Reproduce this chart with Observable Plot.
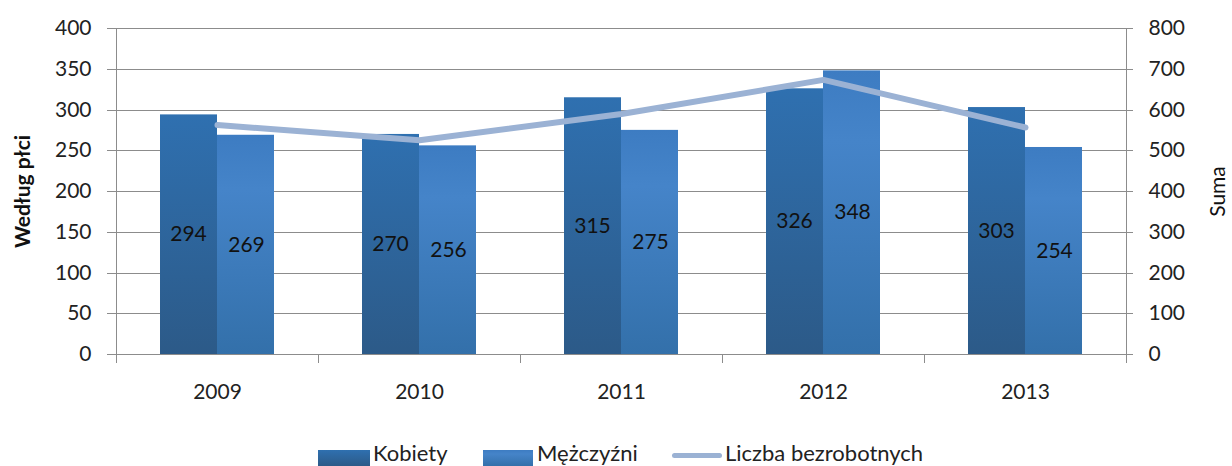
<!DOCTYPE html>
<html><head><meta charset="utf-8">
<script src="https://cdn.jsdelivr.net/npm/d3@7"></script>
<script src="https://cdn.jsdelivr.net/npm/@observablehq/plot@0.6"></script>
<style>
body{margin:0;background:#fff;font-family:Lato, "Open Sans", sans-serif;}
#wrap{position:relative;width:1232px;height:466px;overflow:hidden;background:#fff;}
#wrap svg{display:block;}
.lt{position:absolute;top:442px;font-size:22px;line-height:22px;color:#222;white-space:nowrap;}
.sw{position:absolute;}
</style></head><body><div id="wrap"></div>
<script>
const years = ["2009", "2010", "2011", "2012", "2013"];
const kobiety = [294, 270, 315, 326, 303];
const mezczyzni = [269, 256, 275, 348, 254];
const suma = [563, 526, 590, 674, 557];
const leftTicks = [0, 50, 100, 150, 200, 250, 300, 350, 400];
const rightTicks = [0, 100, 200, 300, 400, 500, 600, 700, 800];
const seriesNames = ["Kobiety", "Mężczyźni", "Liczba bezrobotnych"];
const leftTitle = "Według płci";
const rightTitle = "Suma";

const colK = ["#2f70b0", "#2c5a88"];
const colM = ["#3d7cc2", "#4584c9", "#3370aa"];
const lineCol = "#9bb2d4";
const gridCol = "#8c8c8c";

const data = years.map((y, i) => ({year: y, k: kobiety[i], m: mezczyzni[i], s: suma[i]}));
const leftMax = leftTicks[leftTicks.length - 1];
const rightMax = rightTicks[rightTicks.length - 1];
const ratio = rightMax / leftMax;

function defsMark() {
  const defs = d3.create("svg:defs");
  const gk = defs.append("linearGradient").attr("id", "gK").attr("x1", 0).attr("y1", 0).attr("x2", 0).attr("y2", 1);
  gk.append("stop").attr("offset", "0%").attr("stop-color", colK[0]);
  gk.append("stop").attr("offset", "100%").attr("stop-color", colK[1]);
  const gm = defs.append("linearGradient").attr("id", "gM").attr("x1", 0).attr("y1", 0).attr("x2", 0).attr("y2", 1);
  gm.append("stop").attr("offset", "0%").attr("stop-color", colM[0]);
  gm.append("stop").attr("offset", "25%").attr("stop-color", colM[1]);
  gm.append("stop").attr("offset", "100%").attr("stop-color", colM[2]);
  return defs.node();
}

function frameLines(index, scales) {
  const x = scales.x, y = scales.y;
  const step = x(years[1]) - x(years[0]);
  const y0 = y(0), yTop = y(leftMax);
  const g = d3.create("svg:g").attr("stroke", gridCol).attr("stroke-width", 1).attr("shape-rendering", "crispEdges");
  years.forEach((yr, i) => {
    const xb = x(yr);
    g.append("line").attr("x1", xb).attr("x2", xb).attr("y1", i === 0 ? yTop : y0).attr("y2", y0 + 9);
  });
  const xr = x(years[years.length - 1]) + step;
  g.append("line").attr("x1", xr).attr("x2", xr).attr("y1", yTop).attr("y2", y0 + 9);
  return g.node();
}

const chart = Plot.plot({
  width: 1232,
  height: 440,
  marginLeft: 115,
  marginRight: 106,
  marginTop: 28,
  marginBottom: 86,
  style: {fontFamily: "Lato, 'Open Sans', sans-serif", fontSize: "21px", color: "#222", background: "#fff"},
  x: {type: "band", domain: years, padding: 0, label: null},
  y: {domain: [0, leftMax], label: null},
  marks: [
    defsMark,
    Plot.ruleY(leftTicks, {stroke: gridCol, strokeWidth: 1, strokeOpacity: 1, insetLeft: -8, insetRight: -7, shapeRendering: "crispEdges"}),
    frameLines,
    Plot.barY(data, {x: "year", y: "k", fill: "url(#gK)", insetLeft: 44, insetRight: 101}),
    Plot.barY(data, {x: "year", y: "m", fill: "url(#gM)", insetLeft: 101, insetRight: 44}),
    Plot.text(data, {x: "year", y: d => d.k / 2, text: d => String(d.k), dx: -29, fontSize: 21, fill: "#111"}),
    Plot.text(data, {x: "year", y: d => d.m / 2, text: d => String(d.m), dx: 29, fontSize: 21, fill: "#111"}),
    Plot.line(data, {x: "year", y: d => d.s / ratio, stroke: lineCol, strokeWidth: 6, strokeLinecap: "round", strokeLinejoin: "round"}),
    Plot.axisY(leftTicks, {anchor: "left", tickSize: 0, tickPadding: 24, fontSize: 21, label: null}),
    Plot.axisY(rightTicks.map(v => v / ratio), {anchor: "right", tickSize: 0, tickPadding: 22, fontSize: 21, label: null, tickFormat: d => String(d * ratio)}),
    Plot.axisX({anchor: "bottom", tickSize: 0, tickPadding: 30, fontSize: 21, label: null}),
    Plot.text([leftTitle], {frameAnchor: "left", dx: -92, rotate: -90, textAnchor: "middle", fontWeight: "bold", fontSize: 21, fill: "#111"}),
    Plot.text([rightTitle], {frameAnchor: "right", dx: 92, rotate: -90, textAnchor: "middle", fontSize: 21, fill: "#111"})
  ]
});

const wrap = document.getElementById("wrap");
wrap.appendChild(chart);

// legend
function addSwatch(left, width, top, height, bg, radius) {
  const d = document.createElement("div");
  d.className = "sw";
  d.style.left = left + "px"; d.style.top = top + "px";
  d.style.width = width + "px"; d.style.height = height + "px";
  d.style.background = bg;
  if (radius) d.style.borderRadius = radius + "px";
  wrap.appendChild(d);
}
function addText(left, txt) {
  const s = document.createElement("span");
  s.className = "lt"; s.style.left = left + "px"; s.textContent = txt;
  wrap.appendChild(s);
}
addSwatch(318, 52, 450, 16, `linear-gradient(${colK[0]}, ${colK[1]})`);
addText(373, seriesNames[0]);
addSwatch(483, 50, 450, 16, `linear-gradient(${colM[0]}, ${colM[1]} 25%, ${colM[2]})`);
addText(537, seriesNames[1]);
addSwatch(672, 50, 453, 5, lineCol, 3);
addText(725, seriesNames[2]);
</script>
</body></html>
